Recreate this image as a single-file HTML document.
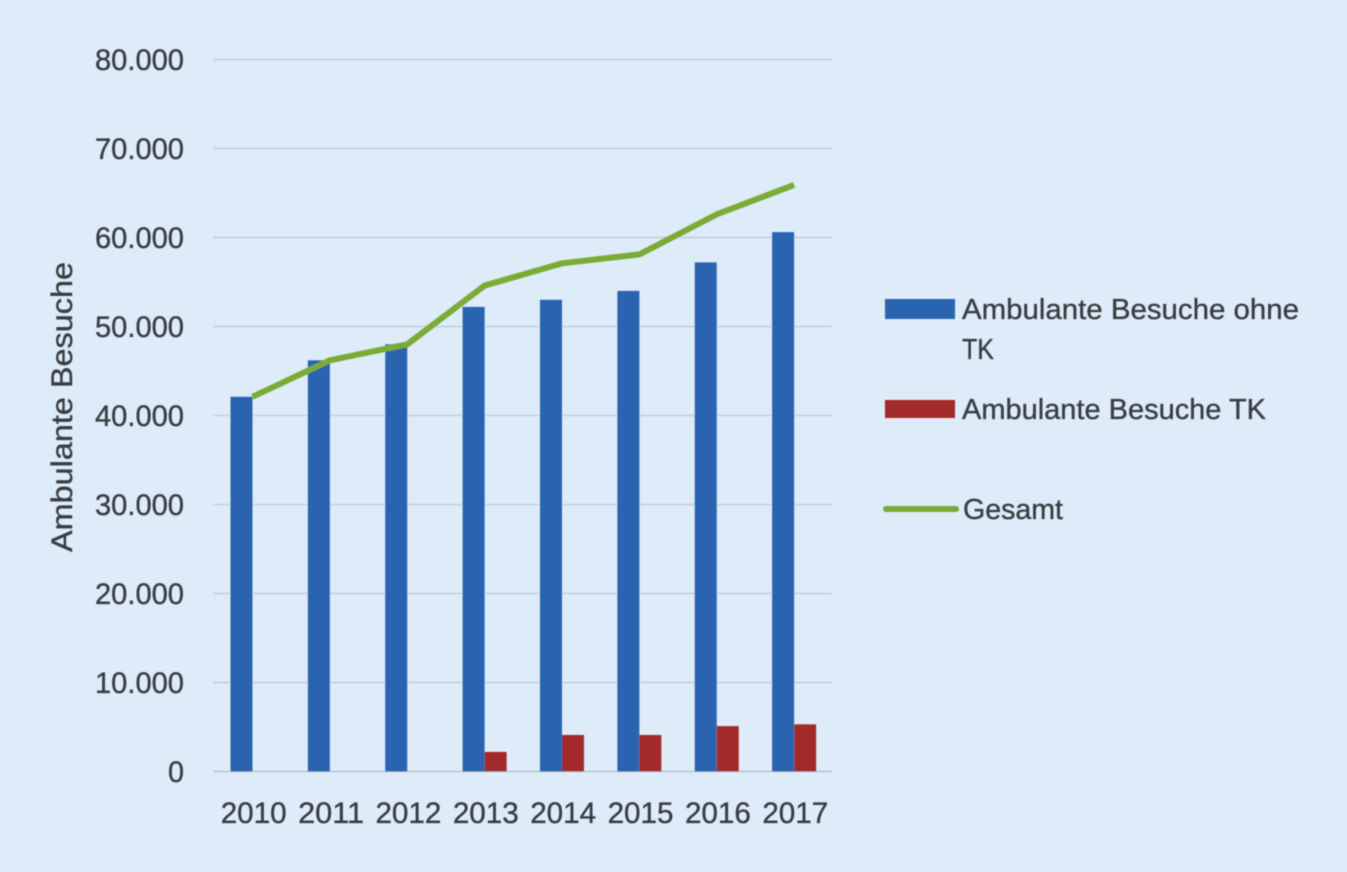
<!DOCTYPE html>
<html lang="de">
<head>
<meta charset="utf-8">
<title>Ambulante Besuche</title>
<style>
  html, body { margin: 0; padding: 0; background: #deebf8; }
  body { width: 1347px; height: 872px; overflow: hidden; }
  svg { display: block; }
  text { font-family: "Liberation Sans", sans-serif; fill: #383d42; stroke: #383d42; stroke-width: 0.35px; }
</style>
</head>
<body>
<svg id="chart" width="1347" height="872" viewBox="0 0 1347 872">
  <defs>
    <filter id="soft" x="-5%" y="-5%" width="110%" height="110%">
      <feGaussianBlur stdDeviation="0.6"/>
    </filter>
  </defs>
  <rect width="1347" height="872" fill="#deebf8"/>
  <g id="plot" filter="url(#soft)">
    <g id="grid"></g>
    <g id="bars"></g>
    <polyline id="total-line" fill="none" stroke="#7aab36" stroke-width="6" stroke-linejoin="round" stroke-linecap="butt"></polyline>
    <g id="y-ticks"></g>
    <g id="x-ticks"></g>
    <text transform="translate(72,552) rotate(-90)" font-size="30" textLength="290" lengthAdjust="spacingAndGlyphs">Ambulante Besuche</text>
    <g>
      <g>
        <rect x="885" y="299" width="70" height="20" fill="#2a64b0"/>
        <text x="962" y="319" font-size="29" textLength="337" lengthAdjust="spacingAndGlyphs">Ambulante Besuche ohne</text>
        <text x="962" y="359" font-size="29" textLength="32" lengthAdjust="spacingAndGlyphs">TK</text>
      </g>
      <g>
        <rect x="885" y="400" width="70" height="18" fill="#a32c2c"/>
        <text x="962" y="419" font-size="29" textLength="304" lengthAdjust="spacingAndGlyphs">Ambulante Besuche TK</text>
      </g>
      <g>
        <line x1="886" y1="509" x2="956" y2="509" stroke="#7aab36" stroke-width="6" stroke-linecap="round"/>
        <text x="963" y="519" font-size="29" textLength="100" lengthAdjust="spacingAndGlyphs">Gesamt</text>
      </g>
    </g>
  </g>
</svg>
<script>
const categories = ["2010", "2011", "2012", "2013", "2014", "2015", "2016", "2017"];
const visitsWithoutTK = [42100, 46200, 48000, 52200, 53000, 54000, 57200, 60600];
const visitsTK = [0, 0, 0, 2200, 4100, 4100, 5100, 5300];
const visitsTotal = [42100, 46200, 48000, 54600, 57100, 58100, 62600, 65900];
const tickValues = [0, 10000, 20000, 30000, 40000, 50000, 60000, 70000, 80000];
const tickLabels = ["0", "10.000", "20.000", "30.000", "40.000", "50.000", "60.000", "70.000", "80.000"];

const NS = "http://www.w3.org/2000/svg";
const plotLeft = 213, plotRight = 832, plotTop = 59.5, plotBottom = 771.5, axisMax = 80000;
const barWidth = 22;
const categoryShift = 0.8;

function yScale(v) {
  return plotBottom - (v / axisMax) * (plotBottom - plotTop);
}
function xCenter(i) {
  return plotLeft + (plotRight - plotLeft) * (i + 0.5) / categories.length + categoryShift;
}
function make(tag, attrs) {
  const el = document.createElementNS(NS, tag);
  for (const k in attrs) el.setAttribute(k, attrs[k]);
  return el;
}
function tickLabelWidth(s) {
  return s.length === 1 ? 16 : 89;
}

const grid = document.getElementById("grid");
const yTicks = document.getElementById("y-ticks");
tickValues.forEach(function (v, i) {
  const line = make("line", { x1: plotLeft, x2: plotRight, y1: yScale(v), y2: yScale(v), stroke: v === 0 ? "#b6c3d0" : "#bfccd9", "stroke-width": 1.6 });
  
  
  grid.appendChild(line);

  const label = make("text", { x: 184, y: yScale(v) + 10.5, "font-size": 30, "text-anchor": "end", textLength: tickLabelWidth(tickLabels[i]), lengthAdjust: "spacingAndGlyphs" });
  
  
  label.textContent = tickLabels[i];
  yTicks.appendChild(label);
});

const bars = document.getElementById("bars");
const xTicks = document.getElementById("x-ticks");
categories.forEach(function (c, i) {
  const cx = xCenter(i);
  const blue = make("rect", { x: cx - barWidth, y: yScale(visitsWithoutTK[i]), width: barWidth, height: plotBottom - yScale(visitsWithoutTK[i]), fill: "#2a64b0" });
  
  
  bars.appendChild(blue);

  if (visitsTK[i] > 0) {
    const red = make("rect", { x: cx, y: yScale(visitsTK[i]), width: barWidth, height: plotBottom - yScale(visitsTK[i]), fill: "#a32c2c" });
    
    
    bars.appendChild(red);
  }

  const label = make("text", { x: cx + 1.2, y: 823, "font-size": 30, "text-anchor": "middle", textLength: 66, lengthAdjust: "spacingAndGlyphs" });
  
  
  label.textContent = c;
  xTicks.appendChild(label);
});

document.getElementById("total-line").setAttribute("points",
  visitsTotal.map(function (v, i) { return xCenter(i) + "," + yScale(v); }).join(" "));
</script>
</body>
</html>
